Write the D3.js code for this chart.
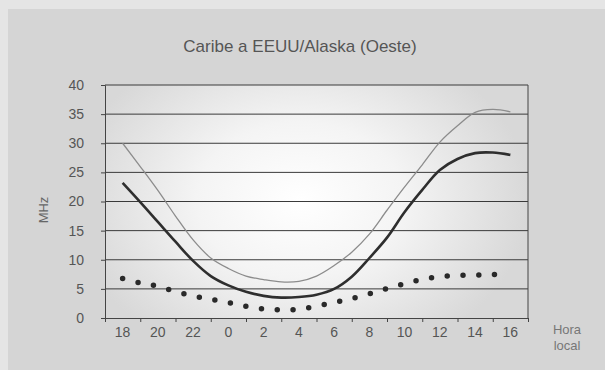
<!DOCTYPE html>
<html><head><meta charset="utf-8">
<script src="https://cdn.jsdelivr.net/npm/d3@7"></script>
<style>
html,body{margin:0;padding:0;background:#e6e6e6;}
svg{display:block;}
text{font-family:"Liberation Sans",Arial,sans-serif;}
</style></head>
<body>
<svg id="c" width="605" height="370"></svg>
<script>
const title = "Caribe a EEUU/Alaska (Oeste)";
const hourLabels = ["18","20","22","0","2","4","6","8","10","12","14","16"];
const hours = [18,19,20,21,22,23,0,1,2,3,4,5,6,7,8,9,10,11,12,13,14,15,16];
const upperMUF = [30,26.0,21.9,17.5,13.4,10.3,8.5,7.2,6.6,6.2,6.3,7.2,9.0,11.3,14.4,18.5,22.5,26.3,30.2,33.0,35.3,35.8,35.4];
const medianMUF = [23.2,19.9,16.5,13.1,9.8,7.2,5.6,4.5,3.8,3.5,3.6,4.0,5.0,7.1,10.3,13.8,18.2,22.0,25.4,27.3,28.3,28.4,28.0];
const lowerFreq = [6.8,6.0,5.45,4.55,3.8,3.2,2.65,2.0,1.55,1.4,1.5,2.05,2.65,3.35,4.15,5.05,5.9,6.6,7.1,7.3,7.35,7.45,7.45];
const yTicks = [0,5,10,15,20,25,30,35,40];

const svg = d3.select("#c");
const L=105, R=528, T=85, B=318;

svg.append("rect").attr("x",0).attr("y",0).attr("width",605).attr("height",370).attr("fill","#e5e5e5");
svg.append("rect").attr("x",8).attr("y",9).attr("width",597).attr("height",361).attr("fill","#d5d5d5");

const defs = svg.append("defs");
const rg = defs.append("radialGradient").attr("id","glow")
  .attr("gradientUnits","userSpaceOnUse").attr("cx",300).attr("cy",200).attr("r",230)
  .attr("gradientTransform","translate(300,200) scale(1,0.75) translate(-300,-200)");
rg.append("stop").attr("offset","0%").attr("stop-color","#ffffff");
rg.append("stop").attr("offset","45%").attr("stop-color","#f4f4f4");
rg.append("stop").attr("offset","100%").attr("stop-color","#d8d8d8");
svg.append("rect").attr("x",L).attr("y",T).attr("width",R-L).attr("height",B-T).attr("fill","url(#glow)");

const x = d3.scaleLinear().domain([-1,23]).range([L,R]);
const y = d3.scaleLinear().domain([0,40]).range([B,T]);

svg.append("g").selectAll("line").data(yTicks.filter(v=>v>0)).join("line")
  .attr("x1",L).attr("x2",R).attr("y1",d=>y(d)).attr("y2",d=>y(d))
  .attr("stroke","#3a3a3a").attr("stroke-width",1);
svg.append("line").attr("x1",R).attr("x2",R).attr("y1",T).attr("y2",B).attr("stroke","#444").attr("stroke-width",1);

const ya = svg.append("g").attr("transform",`translate(${L},0)`)
  .call(d3.axisLeft(y).tickValues(yTicks).tickSize(4).tickPadding(17));
ya.select(".domain").attr("stroke","#444");
ya.selectAll(".tick line").attr("stroke","#444");
ya.selectAll("text").attr("fill","#555").style("font-size","14px");

const xa = svg.append("g").attr("transform",`translate(0,${B})`)
  .call(d3.axisBottom(x).tickValues(d3.range(-1,24,2)).tickSize(4).tickFormat(""));
xa.select(".domain").attr("stroke","#444");
xa.selectAll(".tick line").attr("stroke","#444");
svg.append("g").selectAll("text").data(hourLabels).join("text")
  .attr("x",(d,i)=>x(i*2)).attr("y",B+19).attr("text-anchor","middle")
  .attr("fill","#555").style("font-size","14px").text(d=>d);

const line = d3.line().x((d,i)=>x(i)).y(d=>y(d)).curve(d3.curveCatmullRom.alpha(0.5));
svg.append("path").datum(upperMUF).attr("d",line).attr("fill","none")
  .attr("stroke","#8c8c8c").attr("stroke-width",1.3);
svg.append("path").datum(medianMUF).attr("d",line).attr("fill","none")
  .attr("stroke","#2e2e2e").attr("stroke-width",2.6);
const dp = svg.append("path").datum(lowerFreq).attr("d",line).attr("fill","none")
  .attr("stroke","#2a2a2a").attr("stroke-width",5.5).attr("stroke-linecap","round");
const len = dp.node().getTotalLength();
dp.attr("stroke-dasharray",`0 ${len/25}`);

svg.append("text").attr("x",300).attr("y",52).attr("text-anchor","middle")
  .attr("fill","#555").style("font-size","17px").text(title);
svg.append("text").attr("transform","translate(48,210) rotate(-90)").attr("text-anchor","middle")
  .attr("fill","#666").style("font-size","13px").text("MHz");
svg.append("text").attr("x",567).attr("y",334).attr("text-anchor","middle")
  .attr("fill","#777").style("font-size","13px").text("Hora");
svg.append("text").attr("x",567).attr("y",350).attr("text-anchor","middle")
  .attr("fill","#777").style("font-size","13px").text("local");
</script>
</body></html>
